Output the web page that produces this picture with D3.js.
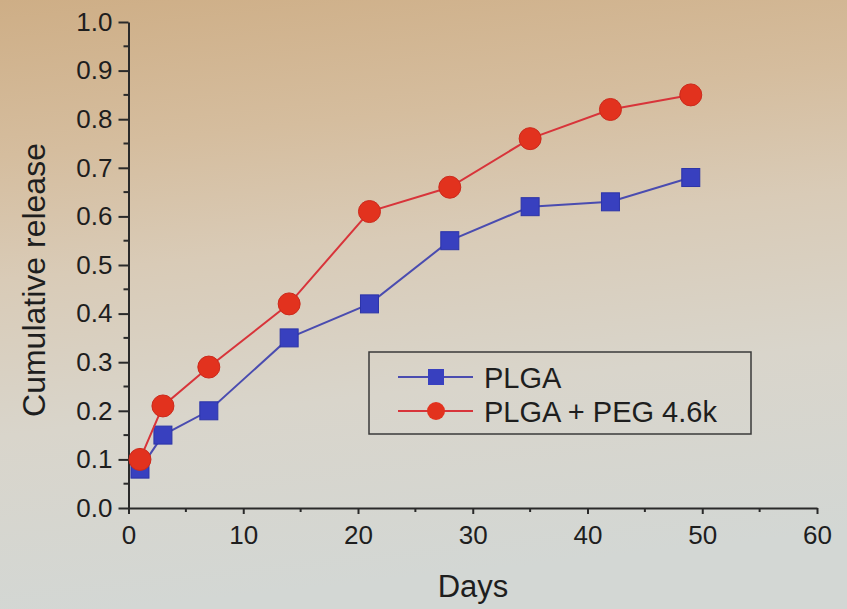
<!DOCTYPE html>
<html>
<head>
<meta charset="utf-8">
<script src="https://cdn.jsdelivr.net/npm/d3@7/dist/d3.min.js"></script>
<style>
  html, body { margin: 0; padding: 0; overflow: hidden; }
  body { width: 847px; height: 609px; }
  text { font-family: "Liberation Sans", Arial, sans-serif; fill: #1e1e1e; }
</style>
</head>
<body>
<svg id="chart" width="847" height="609"></svg>
<script>
const days = [1, 3, 7, 14, 21, 28, 35, 42, 49];
const plga = [0.08, 0.15, 0.20, 0.35, 0.42, 0.55, 0.62, 0.63, 0.68];
const plgaPeg = [0.10, 0.21, 0.29, 0.42, 0.61, 0.66, 0.76, 0.82, 0.85];
const seriesNames = ["PLGA", "PLGA + PEG 4.6k"];
const xTicks = [0, 10, 20, 30, 40, 50, 60];
const yTicks = [0.0, 0.1, 0.2, 0.3, 0.4, 0.5, 0.6, 0.7, 0.8, 0.9, 1.0];

const svg = d3.select("#chart");
const W = 847, H = 609;

// background gradient (photo-like)
const defs = svg.append("defs");
const g1 = defs.append("linearGradient").attr("id", "bg")
  .attr("x1", "0").attr("y1", "0").attr("x2", "0.15").attr("y2", "1");
[[0, "#ceae86"], [0.25, "#d5bd9e"], [0.45, "#d9cbb7"], [0.7, "#d9d5cb"], [1, "#d3d7d4"]]
  .forEach(([o, c]) => g1.append("stop").attr("offset", o).attr("stop-color", c));
svg.append("rect").attr("width", W).attr("height", H).attr("fill", "url(#bg)");

const x = d3.scaleLinear().domain([0, 60]).range([128.5, 817]);
const y = d3.scaleLinear().domain([0, 1]).range([508, 22]);

const axisColor = "#2a2a2a";

// X axis
const xAxis = svg.append("g").attr("transform", `translate(0,${y(0)})`)
  .call(d3.axisBottom(x).tickValues(xTicks).tickFormat(d3.format("d")).tickSizeInner(6).tickSizeOuter(0).tickPadding(12));
xAxis.select(".domain").attr("stroke", axisColor).attr("stroke-width", 2);
xAxis.selectAll(".tick line").attr("stroke", axisColor).attr("stroke-width", 2);
xAxis.selectAll(".tick text").attr("font-size", 26).attr("fill", "#1e1e1e")
  .attr("font-family", "Liberation Sans, Arial, sans-serif");
// minor x ticks
const xMinor = d3.range(5, 60, 10);
svg.append("g").selectAll("line").data(xMinor).join("line")
  .attr("x1", d => x(d)).attr("x2", d => x(d))
  .attr("y1", y(0)).attr("y2", y(0) + 4)
  .attr("stroke", axisColor).attr("stroke-width", 2);

// Y axis
const yAxis = svg.append("g").attr("transform", `translate(${x(0)},0)`)
  .call(d3.axisLeft(y).tickValues(yTicks).tickFormat(d3.format(".1f")).tickSizeInner(10).tickSizeOuter(0).tickPadding(6));
yAxis.select(".domain").attr("stroke", axisColor).attr("stroke-width", 2);
yAxis.selectAll(".tick line").attr("stroke", axisColor).attr("stroke-width", 2);
yAxis.selectAll(".tick text").attr("font-size", 26).attr("fill", "#1e1e1e")
  .attr("font-family", "Liberation Sans, Arial, sans-serif");
const yMinor = d3.range(0.05, 1.0, 0.1);
svg.append("g").selectAll("line").data(yMinor).join("line")
  .attr("x1", x(0) - 5).attr("x2", x(0))
  .attr("y1", d => y(d)).attr("y2", d => y(d))
  .attr("stroke", axisColor).attr("stroke-width", 2);

// Axis titles
svg.append("text").attr("x", 473).attr("y", 597).attr("text-anchor", "middle")
  .attr("font-size", 31).text("Days");
svg.append("text").attr("transform", "translate(45,280) rotate(-90)").attr("text-anchor", "middle")
  .attr("font-size", 32).text("Cumulative release");

const line = d3.line().x(d => x(d[0])).y(d => y(d[1]));
const blue = "#3840bf", blueLine = "#4a4cb0";
const red = "#e2321e", redLine = "#d8343a";

const plgaData = days.map((d, i) => [d, plga[i]]);
const pegData = days.map((d, i) => [d, plgaPeg[i]]);

// PLGA
svg.append("path").datum(plgaData).attr("d", line)
  .attr("fill", "none").attr("stroke", blueLine).attr("stroke-width", 2);
svg.append("g").selectAll("rect").data(plgaData).join("rect")
  .attr("x", d => x(d[0]) - 9).attr("y", d => y(d[1]) - 9)
  .attr("width", 18).attr("height", 18)
  .attr("fill", blue).attr("stroke", "#2c34a8").attr("stroke-width", 1);

// PLGA + PEG
svg.append("path").datum(pegData).attr("d", line)
  .attr("fill", "none").attr("stroke", redLine).attr("stroke-width", 2);
svg.append("g").selectAll("circle").data(pegData).join("circle")
  .attr("cx", d => x(d[0])).attr("cy", d => y(d[1])).attr("r", 11)
  .attr("fill", red).attr("stroke", "#cc2a1c").attr("stroke-width", 1);

// Legend
const lg = svg.append("g");
lg.append("rect").attr("x", 369).attr("y", 352).attr("width", 382).attr("height", 82)
  .attr("fill", "none").attr("stroke", "#3a3a3a").attr("stroke-width", 1.5);
const rows = [
  { name: seriesNames[0], color: blueLine, fill: blue, shape: "square", cy: 377 },
  { name: seriesNames[1], color: redLine, fill: red, shape: "circle", cy: 411 }
];
rows.forEach(r => {
  lg.append("line").attr("x1", 398).attr("x2", 473).attr("y1", r.cy).attr("y2", r.cy)
    .attr("stroke", r.color).attr("stroke-width", 2);
  if (r.shape === "square") {
    lg.append("rect").attr("x", 436 - 8).attr("y", r.cy - 8).attr("width", 16).attr("height", 16)
      .attr("fill", r.fill);
  } else {
    lg.append("circle").attr("cx", 436).attr("cy", r.cy).attr("r", 9).attr("fill", r.fill);
  }
  lg.append("text").attr("x", 484).attr("y", r.cy + 10.5).attr("font-size", 29).text(r.name);
});
</script>
</body>
</html>
